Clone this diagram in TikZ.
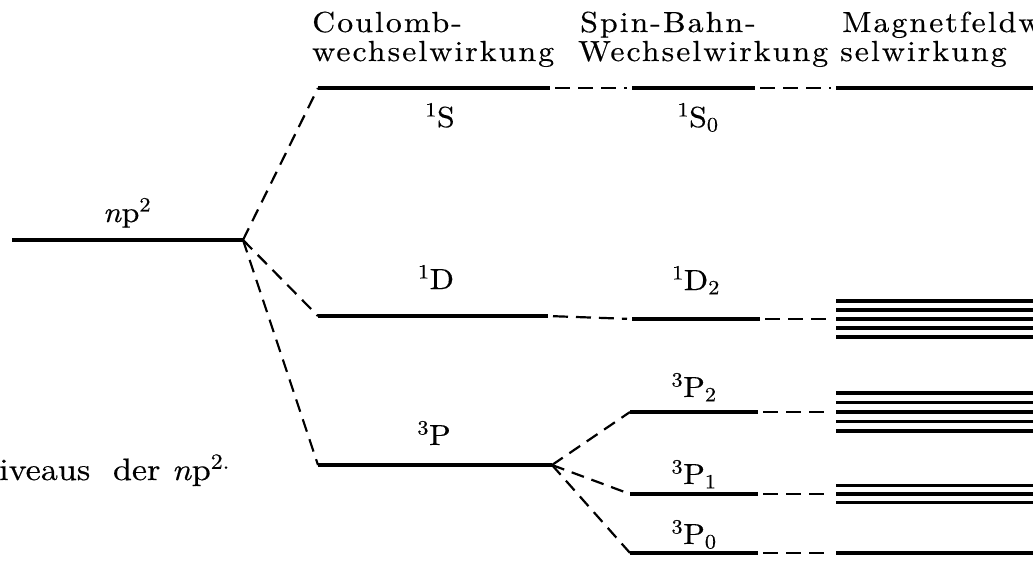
\documentclass[tikz,border=0pt]{standalone}
\usepackage{fix-cm}
\usepackage{fontspec}
% slightly widened, darkened roman for labels and caption
\setmainfont{lmroman10-regular.otf}[ItalicFont=lmroman10-italic.otf, FakeStretch=1.1, FakeBold=0.4]
% widened, letter-spaced roman for the column headings
\newfontfamily\hdfont{lmroman10-regular.otf}[FakeStretch=1.1, LetterSpace=7, FakeBold=0.4]

\tikzset{
  level/.style={line width=3.4pt},
  zeeman/.style={line width=3.3pt},
  conn/.style={line width=2.2pt, dash pattern=on 13pt off 8pt},
  hconn/.style={line width=2.2pt, dash pattern=on 15pt off 8pt, shorten <=5pt, shorten >=5pt},
  head/.style={anchor=base west, inner sep=0pt, font=\hdfont\fontsize{29}{30}\selectfont},
  term/.style={anchor=base, inner sep=0pt, font=\fontsize{29}{30}\selectfont},
  caption/.style={anchor=base west, inner sep=0pt, font=\fontsize{31}{33}\selectfont},
}

\begin{document}
\begin{tikzpicture}[x=1pt,y=-1pt]
\useasboundingbox (0,0) rectangle (1033,562);

% column headings
\node[head] (hc1) at (312,32) {Coulomb-};
\node[head] (hc2) at (312,61) {wechselwirkung};
\node[head] (hs1) at (580,32) {Spin-Bahn-};
\node[head] (hs2) at (578,61) {Wechselwirkung};
\node[head] (hm1) at (842,32) {Magnetfeldw};
\node[head] (hm2) at (840,61) {selwirkung};

% level end points
\coordinate (npL) at (12,240);  \coordinate (npR) at (243,240);
\coordinate (SL)  at (318,88);  \coordinate (SR)  at (550,88);
\coordinate (DL)  at (318,316); \coordinate (DR)  at (548,316);
\coordinate (PL)  at (318,465); \coordinate (PR)  at (552,465);
\coordinate (S0L) at (632,88);  \coordinate (S0R) at (755,88);
\coordinate (D2L) at (632,319); \coordinate (D2R) at (760,319);
\coordinate (P2L) at (630,412); \coordinate (P2R) at (758,412);
\coordinate (P1L) at (630,494); \coordinate (P1R) at (758,494);
\coordinate (P0L) at (630,553); \coordinate (P0R) at (758,553);
\coordinate (ZS0) at (836,88);
\coordinate (ZD2) at (836,319);
\coordinate (ZP2) at (836,412);
\coordinate (ZP1) at (836,494);
\coordinate (ZP0) at (836,553);

% configuration and terms
\draw[level] (npL) -- (npR);
\draw[level] (SL) -- (SR);
\draw[level] (DL) -- (DR);
\draw[level] (PL) -- (PR);
\draw[level] (S0L) -- (S0R);
\draw[level] (D2L) -- (D2R);
\draw[level] (P2L) -- (P2R);
\draw[level] (P1L) -- (P1R);
\draw[level] (P0L) -- (P0R);

% Zeeman components
\draw[zeeman] (ZS0) -- ++(210,0);
\foreach \k in {-2,...,2} \draw[zeeman] ([yshift=\k*9pt]ZD2) -- ++(210,0);
\foreach \k in {-2,...,2} \draw[zeeman] ([yshift=\k*9.5pt]ZP2) -- ++(210,0);
\foreach \k in {-1,0,1} \draw[zeeman] ([yshift=\k*8.5pt]ZP1) -- ++(210,0);
\draw[zeeman] (ZP0) -- ++(210,0);

% splitting lines
\draw[conn] (npR) -- (SL);
\draw[conn] (npR) -- (DL);
\draw[conn] (npR) -- (PL);
\draw[conn] (PR) -- (P2L);
\draw[conn] (PR) -- (P1L);
\draw[conn] (PR) -- (P0L);

% correspondences between columns
\draw[hconn] (SR) -- (S0L);
\draw[hconn] (DR) -- (D2L);
\draw[hconn] (S0R) -- (ZS0);
\draw[hconn] (D2R) -- (ZD2);
\draw[hconn] (P2R) -- (ZP2);
\draw[hconn] (P1R) -- (ZP1);
\draw[hconn] (P0R) -- (ZP0);

% term symbols
\node[term] (tnp) at (127,222) {\textit{n}p\textsuperscript{2}};
\node[term] (t1S) at (440,127) {\textsuperscript{1}S};
\node[term] (t1D) at (436,289) {\textsuperscript{1}D};
\node[term] (t3P) at (434,445) {\textsuperscript{3}P};
\node[term] (t1S0) at (698,127) {\textsuperscript{1}S\textsubscript{0}};
\node[term] (t1D2) at (696,290) {\textsuperscript{1}D\textsubscript{2}};
\node[term] (t3P2) at (694,397) {\textsuperscript{3}P\textsubscript{2}};
\node[term] (t3P1) at (694,484) {\textsuperscript{3}P\textsubscript{1}};
\node[term] (t3P0) at (694,544) {\textsuperscript{3}P\textsubscript{0}};

% caption fragment
\node[caption] (cap) at (-1,480) {iveaus\ \ der \textit{n}p\textsuperscript{2.}};
\end{tikzpicture}
\end{document}
